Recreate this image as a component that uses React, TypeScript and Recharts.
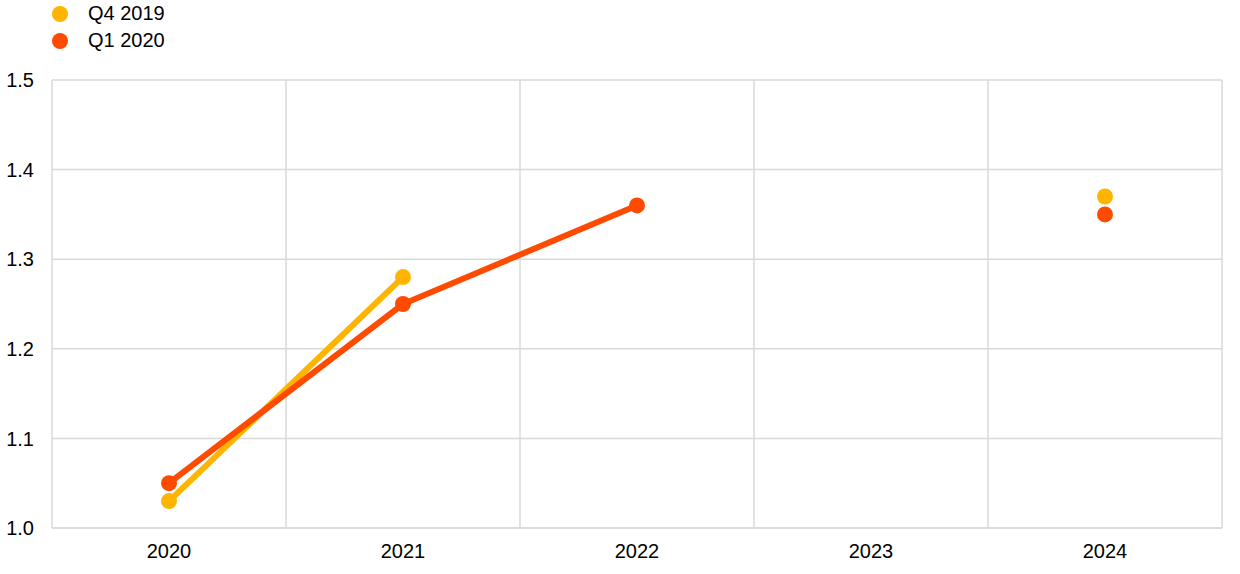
import { LineChart, Line, XAxis, YAxis, CartesianGrid } from 'recharts';

const years = ['2020', '2021', '2022', '2023', '2024'];
const q42019 = [1.03, 1.28, null, null, 1.37];
const q12020 = [1.05, 1.25, 1.36, null, 1.35];
const yTicks = [1.0, 1.1, 1.2, 1.3, 1.4, 1.5];

const SERIES = [
  { key: 'q42019', name: 'Q4 2019', color: '#ffb400' },
  { key: 'q12020', name: 'Q1 2020', color: '#ff4b00' },
];

const chartData = years.map((year, i) => ({
  year,
  q42019: q42019[i],
  q12020: q12020[i],
}));

const FONT = '"Liberation Sans", Arial, sans-serif';

function LegendBox() {
  return (
    <div style={{ position: 'absolute', left: 0, top: 0, fontFamily: FONT, fontSize: 20, color: '#000' }}>
      {SERIES.map((s) => (
        <div key={s.key} style={{ display: 'flex', alignItems: 'center', height: 27 }}>
          <span
            style={{
              display: 'inline-block',
              width: 16,
              height: 16,
              borderRadius: 8,
              background: s.color,
              marginLeft: 52,
              marginRight: 20,
            }}
          />
          {s.name}
        </div>
      ))}
    </div>
  );
}

export default function App() {
  return (
    <div style={{ position: 'absolute', left: 0, top: 0, width: 1240, height: 574, background: '#fff' }}>
      <LineChart
        width={1240}
        height={574}
        data={chartData}
        margin={{ top: 80, right: 18, bottom: 0, left: 0 }}
      >
        <CartesianGrid
          stroke="#d9d9d9"
          strokeWidth={1.5}
          verticalCoordinatesGenerator={({ offset }: any) =>
            Array.from({ length: years.length + 1 }, (_, i) => offset.left + (i * offset.width) / years.length)
          }
        />
        <XAxis
          dataKey="year"
          scale="band"
          height={46}
          axisLine={{ stroke: '#d9d9d9', strokeWidth: 1.5 }}
          tickLine={false}
          tickSize={0}
          tickMargin={16}
          tick={{ fill: '#000', fontSize: 20, fontFamily: FONT }}
        />
        <YAxis
          width={52}
          domain={[1.0, 1.5]}
          ticks={yTicks}
          tickFormatter={(v: number) => v.toFixed(1)}
          axisLine={false}
          tickLine={false}
          tickSize={0}
          tickMargin={18}
          tick={{ fill: '#000', fontSize: 20, fontFamily: FONT }}
        />
        {SERIES.map((s) => (
          <Line
            key={s.key}
            dataKey={s.key}
            name={s.name}
            stroke={s.color}
            strokeWidth={6}
            dot={{ r: 8, fill: s.color, stroke: 'none' }}
            activeDot={false}
            isAnimationActive={false}
          />
        ))}
      </LineChart>
      <LegendBox />
    </div>
  );
}
